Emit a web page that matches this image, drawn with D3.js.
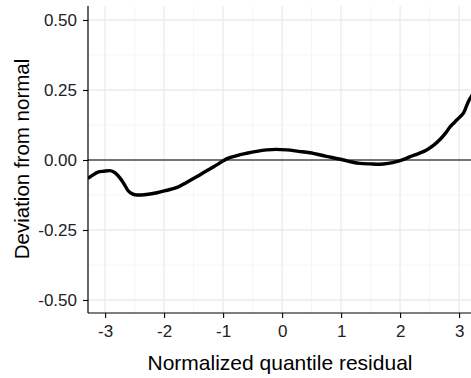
<!DOCTYPE html>
<html><head><meta charset="utf-8">
<script src="https://cdn.jsdelivr.net/npm/d3@7"></script>
<style>body{margin:0;background:#fff}svg{display:block}text{font-family:"Liberation Sans",Arial,sans-serif}</style>
</head><body><svg id="c" width="471" height="378"></svg>
<script>
const xVals = [-3.29,-3.21,-3.12,-3.02,-2.92,-2.83,-2.75,-2.68,-2.61,-2.53,-2.46,-2.30,-2.12,-1.95,-1.78,-1.62,-1.45,-1.30,-1.16,-1.05,-0.94,-0.78,-0.60,-0.43,-0.26,-0.10,0.08,0.28,0.47,0.75,1.04,1.18,1.32,1.50,1.66,1.80,1.94,2.06,2.17,2.31,2.45,2.57,2.68,2.77,2.85,2.92,2.96,3.02,3.08,3.13,3.17,3.21,3.26];
const yVals = [-0.066,-0.054,-0.043,-0.040,-0.038,-0.046,-0.064,-0.085,-0.110,-0.122,-0.125,-0.123,-0.117,-0.108,-0.098,-0.080,-0.060,-0.041,-0.024,-0.010,0.004,0.015,0.024,0.031,0.036,0.038,0.036,0.031,0.026,0.013,0.000,-0.007,-0.012,-0.014,-0.015,-0.012,-0.006,0.002,0.012,0.023,0.036,0.053,0.074,0.096,0.119,0.134,0.143,0.155,0.170,0.195,0.214,0.228,0.245];
const xTicks = [-3,-2,-1,0,1,2,3];
const xTickLabels = ["-3","-2","-1","0","1","2","3"];
const xMinor = [-2.5,-1.5,-0.5,0.5,1.5,2.5];
const yTicks = [-0.5,-0.25,0,0.25,0.5];
const yMinor = [-0.375,-0.125,0.125,0.375];
const yTickLabels = ["-0.50","-0.25","0.00","0.25","0.50"];

const svg = d3.select("#c");
const L = 88, T = 6, B = 313;
const x = d3.scaleLinear().domain([-3.29, 3.3]).range([L, L + 6.59*59]);
const y = d3.scaleLinear().domain([-0.5, 0.5]).range([300, 20]);
const R = 480;

const g = svg.append("g");
g.append("clipPath").attr("id","cp").append("rect").attr("x",L).attr("y",T).attr("width",R-L).attr("height",B-T);

g.selectAll(".xmin").data(xMinor).join("line").attr("x1",d=>x(d)).attr("x2",d=>x(d)).attr("y1",T).attr("y2",B).attr("stroke","#f2f2f2").attr("stroke-width",0.8);
g.selectAll(".ymin").data(yMinor).join("line").attr("x1",L).attr("x2",R).attr("y1",d=>y(d)).attr("y2",d=>y(d)).attr("stroke","#f2f2f2").attr("stroke-width",0.8);
g.selectAll(".xmaj").data(xTicks).join("line").attr("x1",d=>x(d)).attr("x2",d=>x(d)).attr("y1",T).attr("y2",B).attr("stroke","#ebebeb").attr("stroke-width",1.3);
g.selectAll(".ymaj").data(yTicks).join("line").attr("x1",L).attr("x2",R).attr("y1",d=>y(d)).attr("y2",d=>y(d)).attr("stroke","#ebebeb").attr("stroke-width",1.3);

g.append("line").attr("x1",L).attr("x2",R).attr("y1",y(0)).attr("y2",y(0)).attr("stroke","#4d4d4d").attr("stroke-width",1.3);

const line = d3.line().x((d,i)=>x(xVals[i])).y((d,i)=>y(yVals[i])).curve(d3.curveMonotoneX);
g.append("path").datum(yVals).attr("d",line).attr("fill","none").attr("stroke","#000").attr("stroke-width",3.4).attr("stroke-linejoin","round").attr("clip-path","url(#cp)");

// axes
const xa = svg.append("g").attr("transform",`translate(0,${B})`).call(d3.axisBottom(x).tickValues(xTicks).tickSize(5).tickFormat((d,i)=>xTickLabels[i]));
xa.select(".domain").remove();
xa.selectAll("line").attr("stroke","#000").attr("stroke-width",1.1);
xa.selectAll("text").attr("y",23.5).attr("dy",0).attr("font-size",17).attr("fill","#222").attr("font-family","Liberation Sans, Arial, sans-serif");
const ya = svg.append("g").attr("transform",`translate(${L},0)`).call(d3.axisLeft(y).tickValues(yTicks).tickSize(5).tickPadding(6).tickFormat((d,i)=>yTickLabels[i]));
ya.select(".domain").remove();
ya.selectAll("line").attr("stroke","#000").attr("stroke-width",1.1);
ya.selectAll("text").attr("font-size",17).attr("fill","#222").attr("font-family","Liberation Sans, Arial, sans-serif");

svg.append("line").attr("x1",L).attr("x2",L).attr("y1",T).attr("y2",B).attr("stroke","#000").attr("stroke-width",1.2);
svg.append("line").attr("x1",L).attr("x2",R).attr("y1",B).attr("y2",B).attr("stroke","#000").attr("stroke-width",1.2);

svg.append("text").attr("x",280).attr("y",370).attr("text-anchor","middle").attr("font-size",21).attr("fill","#000").text("Normalized quantile residual");
svg.append("text").attr("transform",`translate(28.5,159) rotate(-90)`).attr("text-anchor","middle").attr("font-size",20.5).attr("fill","#000").text("Deviation from normal");
</script></body></html>
